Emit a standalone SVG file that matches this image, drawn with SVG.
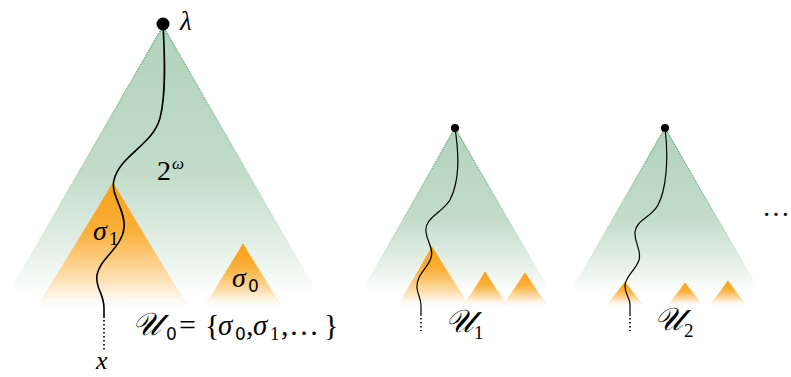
<svg xmlns="http://www.w3.org/2000/svg" width="791" height="377" viewBox="0 0 791 377">
<defs>
<linearGradient id="gGreen" x1="0" y1="0" x2="0" y2="1">
<stop offset="0" stop-color="#b2d3bc"/>
<stop offset="0.55" stop-color="#c2dcc9"/>
<stop offset="0.85" stop-color="#e8f2eb"/>
<stop offset="1" stop-color="#ffffff"/>
</linearGradient>
<linearGradient id="gGreenEdge" x1="0" y1="0" x2="0" y2="1">
<stop offset="0" stop-color="#3f8a55"/>
<stop offset="0.6" stop-color="#9cc6a8"/>
<stop offset="1" stop-color="#ffffff"/>
</linearGradient>
<linearGradient id="gOrange" x1="0" y1="0" x2="0" y2="1">
<stop offset="0" stop-color="#f7a11a"/>
<stop offset="0.4" stop-color="#fbb03a"/>
<stop offset="0.8" stop-color="#fde1b5"/>
<stop offset="1" stop-color="#ffffff"/>
</linearGradient>
<linearGradient id="gOrangeEdge" x1="0" y1="0" x2="0" y2="1">
<stop offset="0" stop-color="#e8930f"/>
<stop offset="1" stop-color="#fdebd0"/>
</linearGradient>
<style>
.green{fill:url(#gGreen);stroke:url(#gGreenEdge);stroke-width:1.2;stroke-dasharray:1 1}
.orange{fill:url(#gOrange);stroke:url(#gOrangeEdge);stroke-width:1;stroke-dasharray:1 1}
.path{fill:none;stroke:#000;stroke-width:1.6}
.paths{fill:none;stroke:#000;stroke-width:1.2}
.dots{fill:none;stroke:#000;stroke-width:1.6;stroke-dasharray:1.5 2.5}
.math{font-family:"Liberation Serif","DejaVu Serif",serif;font-style:italic;fill:#000}
.rm{font-family:"Liberation Serif","DejaVu Serif",serif;font-style:normal;fill:#000}
.ss{font-family:"DejaVu Sans","Liberation Sans",sans-serif;font-style:normal;fill:#000}
.sc{font-family:"DejaVu Serif","Liberation Serif",serif;font-style:italic;fill:#000}
</style>
</defs>
<rect width="791" height="377" fill="#fff"/>

<g id="tree0">
<polygon class="green" points="163,26 8,295 318,295"/>
<polygon class="orange" points="113,183 39,304 186,304"/>
<polygon class="orange" points="243,244 206,304 280,304"/>
</g>
<g id="tree1">
<polygon class="green" points="455,128 362,292 550,292"/>
<polygon class="orange" points="432,247 399,304 468,304"/>
<polygon class="orange" points="485,272 465,304 506,304"/>
<polygon class="orange" points="525,273 504,304 546,304"/>
</g>
<g id="tree2">
<polygon class="green" points="665,128 571,292 760,292"/>
<polygon class="orange" points="625,282 608,304 642,304"/>
<polygon class="orange" points="685,283 669,304 702,304"/>
<polygon class="orange" points="728,281 711,304 745,304"/>
</g>

<g id="connectors">
<path class="path" d="M163,24 C165,60 166,95 160,118 C153,145 120,155 114,180 C110,195 126,210 124,228 C122,248 100,258 97,275 C95,288 104,293 104,308 L104,318"/>
<path class="dots" d="M104,320 L104,352"/>
<path class="paths" d="M455,128 C459,155 460,180 450,200 C442,213 424,218 426,232 C427,242 434,248 431,258 C428,268 416,275 417,288 C418,296 421,298 421,306 L421,316"/>
<path class="dots" d="M421,318 L421,331"/>
<path class="paths" d="M665,128 C669,160 666,190 658,205 C652,217 636,220 635,232 C634,243 642,250 639,260 C636,270 625,276 625,286 C625,295 630,297 630,305 L630,316"/>
<path class="dots" d="M630,318 L630,331"/>
</g>

<g id="root0"><circle cx="163" cy="24" r="6.5" fill="#000"/></g>
<g id="root1"><circle cx="455" cy="128" r="4" fill="#000"/></g>
<g id="root2"><circle cx="665" cy="128" r="4" fill="#000"/></g>

<g id="labels">
<text class="math" x="180" y="30" font-size="27">λ</text>
<text class="rm" x="157" y="180" font-size="28">2</text>
<text class="math" x="172" y="169" font-size="17">ω</text>
<text class="math" x="93" y="240" font-size="28">σ</text>
<text class="rm" x="109" y="245" font-size="19">1</text>
<text class="math" x="232" y="287" font-size="28">σ</text>
<text class="ss" x="248" y="292" font-size="17">0</text>

<text class="sc" x="132" y="335" font-size="32">𝒰</text>
<text class="ss" x="166" y="340" font-size="17">0</text>
<text class="rm" x="179" y="335" font-size="30">=</text>
<text class="rm" x="205" y="335" font-size="30">{</text>
<text class="math" x="218" y="335" font-size="29">σ</text>
<text class="ss" x="235" y="340" font-size="17">0</text>
<text class="rm" x="246" y="335" font-size="30">,</text>
<text class="math" x="253" y="335" font-size="29">σ</text>
<text class="rm" x="270" y="340" font-size="19">1</text>
<text class="rm" x="281" y="335" font-size="30">,</text>
<text class="rm" x="289" y="335" font-size="30">…</text>
<text class="rm" x="324" y="335" font-size="30">}</text>

<text class="math" x="96" y="369" font-size="26">x</text>

<text class="sc" x="445" y="332" font-size="32">𝒰</text>
<text class="rm" x="474" y="339" font-size="19">1</text>
<text class="sc" x="654" y="330" font-size="32">𝒰</text>
<text class="rm" x="684" y="337" font-size="19">2</text>

<text class="rm" x="762" y="216" font-size="28">…</text>
</g>
</svg>
